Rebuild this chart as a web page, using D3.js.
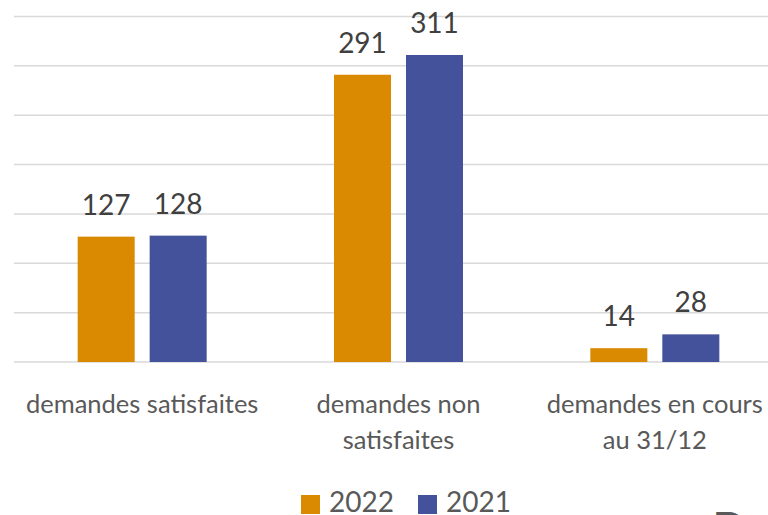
<!DOCTYPE html>
<html><head><meta charset="utf-8">
<script src="https://cdn.jsdelivr.net/npm/d3@7"></script>
<style>html,body{margin:0;padding:0;background:#fff;overflow:hidden}</style>
</head><body>
<svg id="c" width="768" height="515"></svg>
<script>
const categories = [["demandes satisfaites"], ["demandes non", "satisfaites"], ["demandes en cours", "au 31/12"]];
const seriesNames = ["2022", "2021"];
const values2022 = [127, 291, 14];
const values2021 = [128, 311, 28];
const gridTicks = [0, 50, 100, 150, 200, 250, 300, 350];
const colors = ["#DA8A00", "#43529B"];

const svg = d3.select("#c");
const font = "Lato, 'Noto Sans', sans-serif";
const x0 = d3.scaleBand().domain(d3.range(categories.length)).range([14, 783]).padding(0);
const x1 = d3.scaleBand().domain(seriesNames).range([0, 129]).paddingInner(0.208).paddingOuter(0);
const y = d3.scaleLinear().domain([0, 350]).range([362, 16.5]);
const color = d3.scaleOrdinal().domain(seriesNames).range(colors);
const off = (x0.bandwidth() - 129) / 2;

svg.append("g").selectAll("line").data(gridTicks).join("line")
  .attr("x1", 14).attr("x2", 783)
  .attr("y1", d => y(d)).attr("y2", d => y(d))
  .attr("stroke", "#d9d9d9").attr("stroke-width", 1.5);

const rows = categories.map((c, i) => ({i, vals: [values2022[i], values2021[i]]}));
const g = svg.append("g").selectAll("g").data(rows).join("g")
  .attr("transform", d => `translate(${x0(d.i) + off},0)`);
g.selectAll("rect").data(d => d.vals.map((v, k) => ({s: seriesNames[k], v}))).join("rect")
  .attr("x", d => x1(d.s)).attr("width", x1.bandwidth())
  .attr("y", d => y(d.v)).attr("height", d => y(0) - y(d.v))
  .attr("fill", d => color(d.s));
g.selectAll("text").data(d => d.vals.map((v, k) => ({s: seriesNames[k], v}))).join("text")
  .attr("x", d => x1(d.s) + x1.bandwidth() / 2).attr("y", d => y(d.v) - 22)
  .attr("text-anchor", "middle").attr("font-family", font).attr("font-size", 28)
  .attr("fill", "#404040").text(d => d.v);

svg.append("g").selectAll("text").data(categories).join("text")
  .attr("text-anchor", "middle").attr("font-family", font).attr("font-size", 25.5)
  .attr("fill", "#595959")
  .attr("transform", (d, i) => `translate(${x0(i) + x0.bandwidth() / 2},413)`)
  .selectAll("tspan").data(d => d).join("tspan")
  .attr("x", 0).attr("dy", (d, j) => j === 0 ? 0 : 36).text(d => d);

const leg = svg.append("g").selectAll("g").data(seriesNames).join("g")
  .attr("transform", (d, i) => `translate(${301 + i * 117},0)`);
leg.append("rect").attr("x", 0).attr("y", 495).attr("width", 19).attr("height", 19)
  .attr("fill", d => color(d));
leg.append("text").attr("x", 28).attr("y", 512).attr("font-family", font).attr("font-size", 28)
  .attr("fill", "#595959").text(d => d);

svg.append("text").attr("x", 712).attr("y", 545).attr("font-family", font).attr("font-size", 46)
  .attr("fill", "#595959").text("D");
</script>
</body></html>
